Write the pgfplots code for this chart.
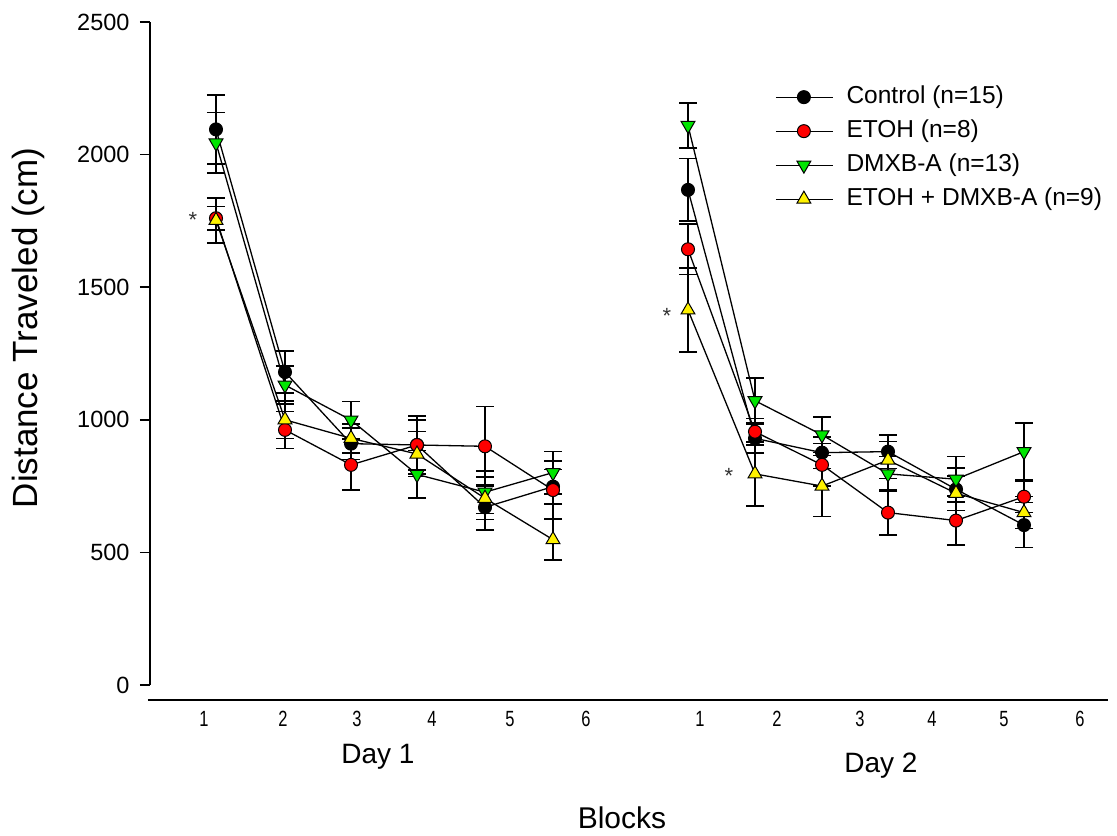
\documentclass[border=0pt]{standalone}
\usepackage{fontspec}
\setmainfont{Liberation Sans}
\usepackage{graphicx}
\usepackage{pgfplots}
\pgfplotsset{compat=1.18}
\usepackage{pgfplotstable}

% x = horizontal position of each block, y = mean distance, e = SEM
\pgfplotstableread{
x y e
216 2095 130
285 1180 80
351 910 60
417 905 110
485 670 85
553 748 65
}\ctrlA
\pgfplotstableread{
x y e
688 1867 118
755 930 55
822 876 60
888 880 63
956 738 80
1024 603 85
}\ctrlB
\pgfplotstableread{
x y e
216 1760 45
285 962 70
351 830 95
417 905 95
485 900 150
553 735 110
}\etohA
\pgfplotstableread{
x y e
688 1643 95
755 955 50
822 830 80
888 650 85
956 620 92
1024 710 60
}\etohB
\pgfplotstableread{
x y e
216 2044 114
285 1131 72
351 999 70
417 794 90
485 727 80
553 801 80
}\dmxbA
\pgfplotstableread{
x y e
688 2110 85
755 1072 85
822 943 67
888 796 65
956 776 85
1024 880 108
}\dmxbB
\pgfplotstableread{
x y e
216 1752 85
285 1000 70
351 930 55
417 871 85
485 704 80
553 548 77
}\bothA
\pgfplotstableread{
x y e
688 1414 158
755 796 120
822 750 115
888 848 70
956 723 65
1024 650 60
}\bothB

\newcommand\nw[1]{\scalebox{0.75}[1]{#1}}

\pgfplotsset{
  grp/.style={black, line width=1.3pt, mark size=#1,
    error bars/y dir=both, error bars/y explicit,
    error bars/error bar style={black, line width=1.6pt},
    error bars/error mark options={rotate=90, mark size=9pt, line width=1.6pt, black}},
}

\begin{document}
\begin{tikzpicture}
\begin{axis}[
  scale only axis, width=958pt, height=678pt,
  xmin=150, xmax=1108, ymin=-56.56, ymax=2500,
  clip=false,
  axis x line*=bottom, axis y line*=left,
  axis line style={draw=none},
  tick align=outside,
  major tick length=10pt,
  ytick={0,500,1000,1500,2000,2500},
  ytick style={black, line width=1.6pt},
  scaled y ticks=false,
  /pgf/number format/1000 sep={},
  /pgf/number format/assume math mode=true,
  yticklabel style={font=\fontsize{23.5}{23.5}\selectfont, anchor=east, xshift=-7pt},
  xtick={204,283,357,432,510,586,700,777,860,932,1004,1080},
  xticklabels={\nw{1},\nw{2},\nw{3},\nw{4},\nw{5},\nw{6},\nw{1},\nw{2},\nw{3},\nw{4},\nw{5},\nw{6}},
  xtick style={draw=none},
  xticklabel style={font=\fontsize{22}{22}\selectfont, anchor=north, yshift=2pt},
  legend style={at={(0.6493,0.9086)}, anchor=north west, draw=none, fill=none,
    font=\fontsize{24.5}{24.5}\selectfont, row sep=12pt,
    nodes={inner sep=0pt, text height=17pt, text depth=5pt, anchor=west},
    /tikz/every odd column/.append style={column sep=13pt}},
  legend cell align=left,
  legend image code/.code={
    \draw[#1, mark repeat=2, mark phase=2] plot coordinates {(0pt,0pt) (28pt,0pt) (57pt,0pt)};},
]
% axis lines: y axis ends at zero, the block axis sits below it
\draw[line width=1.8pt] (axis cs:150,0) -- (axis cs:150,2500);
\draw[line width=1.8pt] (axis cs:148,-56.56) -- (axis cs:1108,-56.56);

\addplot[grp=6.5pt, mark=*, mark options={fill=black, draw=black, line width=1pt}]
  table[x=x, y=y, y error=e]{\ctrlA};
\addlegendentry{Control (n=15)}
\addplot[grp=6.5pt, mark=*, mark options={fill=black, draw=black, line width=1pt}, forget plot]
  table[x=x, y=y, y error=e]{\ctrlB};

\addplot[grp=6.5pt, mark=*, mark options={fill=red, draw=black, line width=1pt}]
  table[x=x, y=y, y error=e]{\etohA};
\addlegendentry{ETOH (n=8)}
\addplot[grp=6.5pt, mark=*, mark options={fill=red, draw=black, line width=1pt}, forget plot]
  table[x=x, y=y, y error=e]{\etohB};

\addplot[grp=8pt, mark=triangle*, mark options={fill=green!90!black, draw=black, line width=1pt, rotate=180}]
  table[x=x, y=y, y error=e]{\dmxbA};
\addlegendentry{DMXB-A (n=13)}
\addplot[grp=8pt, mark=triangle*, mark options={fill=green!90!black, draw=black, line width=1pt, rotate=180}, forget plot]
  table[x=x, y=y, y error=e]{\dmxbB};

\addplot[grp=8pt, mark=triangle*, mark options={fill=yellow, draw=black, line width=1pt}]
  table[x=x, y=y, y error=e]{\bothA};
\addlegendentry{ETOH + DMXB-A (n=9)}
\addplot[grp=8pt, mark=triangle*, mark options={fill=yellow, draw=black, line width=1pt}, forget plot]
  table[x=x, y=y, y error=e]{\bothB};

% significance markers
\node[font=\fontsize{22}{22}\selectfont, text=black!80] at (axis cs:193,1755) {*};
\node[font=\fontsize{22}{22}\selectfont, text=black!80] at (axis cs:667,1390) {*};
\node[font=\fontsize{22}{22}\selectfont, text=black!80] at (axis cs:729,790) {*};

% axis titles
\node[rotate=90, font=\fontsize{35}{35}\selectfont] at (axis cs:28,1346) {Distance Traveled (cm)};
\node[font=\fontsize{28}{28}\selectfont] at (axis cs:378,-271) {Day 1};
\node[font=\fontsize{28}{28}\selectfont] at (axis cs:881,-305) {Day 2};
\node[font=\fontsize{30}{30}\selectfont] at (axis cs:622,-500) {Blocks};
\end{axis}
\pgfresetboundingbox
\path[use as bounding box] ([shift={(-150pt,-136pt)}]current axis.south west)
  rectangle ([shift={(9pt,22pt)}]current axis.north east);
\end{tikzpicture}
\end{document}
